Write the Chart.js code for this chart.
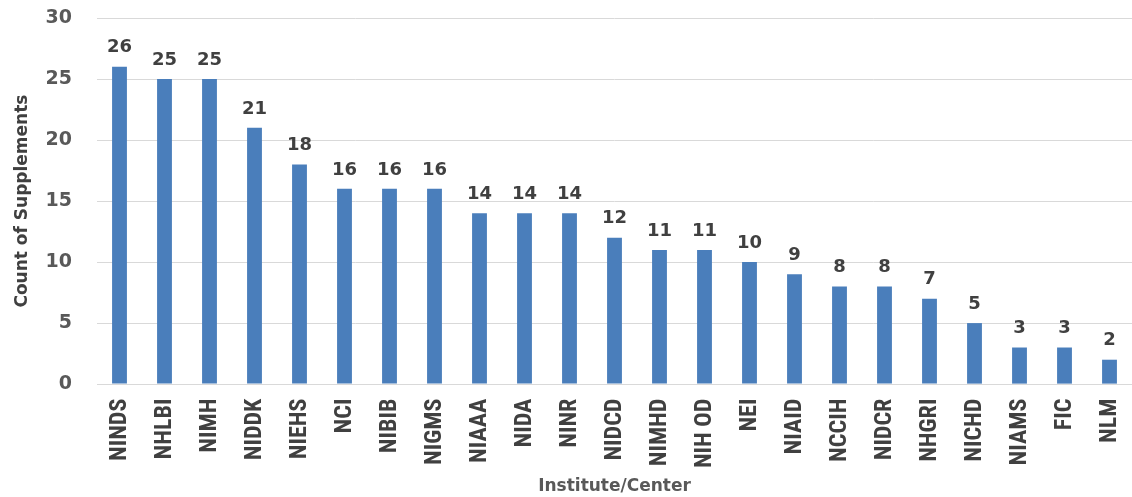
<!DOCTYPE html>
<html>
<head>
<meta charset="utf-8">
<script src="https://cdn.jsdelivr.net/npm/chart.js@4"></script>
<style>
  html, body { margin: 0; padding: 0; background: #fff; }
</style>
</head>
<body>
<canvas id="supplements-chart" width="1132" height="497"></canvas>
<script>
const categories = ['NINDS', 'NHLBI', 'NIMH', 'NIDDK', 'NIEHS', 'NCI', 'NIBIB', 'NIGMS', 'NIAAA', 'NIDA', 'NINR',
  'NIDCD', 'NIMHD', 'NIH OD', 'NEI', 'NIAID', 'NCCIH', 'NIDCR', 'NHGRI', 'NICHD', 'NIAMS', 'FIC', 'NLM'];
const counts = [26, 25, 25, 21, 18, 16, 16, 16, 14, 14, 14, 12, 11, 11, 10, 9, 8, 8, 7, 5, 3, 3, 2];
const yTicks = [0, 5, 10, 15, 20, 25, 30];

// draws the value above each bar
const barValues = {
  id: 'barValues',
  afterDatasetsDraw(chart) {
    const ctx = chart.ctx;
    const meta = chart.getDatasetMeta(0);
    ctx.save();
    ctx.font = 'bold 18px "DejaVu Sans", sans-serif';
    ctx.fillStyle = '#404040';
    ctx.textAlign = 'center';
    ctx.textBaseline = 'bottom';
    meta.data.forEach((bar, i) => {
      ctx.fillText(String(counts[i]), bar.x, bar.y - 10);
    });
    ctx.restore();
  }
};

const ctx = document.querySelector('#supplements-chart').getContext('2d');
new Chart(ctx, {
  type: 'bar',
  data: {
    labels: categories,
    datasets: [{
      label: 'Count of Supplements',
      data: counts,
      backgroundColor: '#4a7ebb',
      categoryPercentage: 1,
      barPercentage: 0.33,
    }],
  },
  options: {
    responsive: false,
    animation: false,
    devicePixelRatio: 1,
    layout: {padding: {top: 0, right: 0, left: 12, bottom: 0}},
    scales: {
      x: {
        afterFit: (scale) => { scale.paddingLeft = 0; scale.paddingRight = 0; },
        grid: {display: false},
        border: {color: '#d9d9d9', width: 1},
        ticks: {
          minRotation: 90,
          maxRotation: 90,
          color: '#404040',
          padding: 6.5,
          font: {family: '"Liberation Sans Narrow", "Roboto Condensed", Arial, sans-serif', size: 24, weight: 'bold'},
        },
        title: {
          display: true,
          text: 'Institute/Center',
          color: '#595959',
          padding: {top: 2, bottom: 0},
          font: {family: '"DejaVu Sans", sans-serif', size: 17, weight: 'bold'},
        },
      },
      y: {
        min: 0,
        max: 30,
        afterBuildTicks: (axis) => { axis.ticks = yTicks.map((v) => ({value: v})); },
        afterFit: (scale) => { scale.width = 85; scale.paddingTop = 18; scale.paddingBottom = 0; },
        grid: {color: '#d9d9d9', drawTicks: false},
        border: {display: false},
        ticks: {
          color: '#595959',
          padding: 25,
          font: {family: '"DejaVu Sans", sans-serif', size: 19, weight: 'bold'},
        },
        title: {
          display: true,
          text: 'Count of Supplements',
          color: '#404040',
          padding: {top: 0, bottom: 0},
          font: {family: '"DejaVu Sans", sans-serif', size: 17, weight: 'bold'},
        },
      },
    },
    plugins: {
      legend: {display: false},
      tooltip: {enabled: false},
    },
  },
  plugins: [barValues],
});
</script>
</body>
</html>
